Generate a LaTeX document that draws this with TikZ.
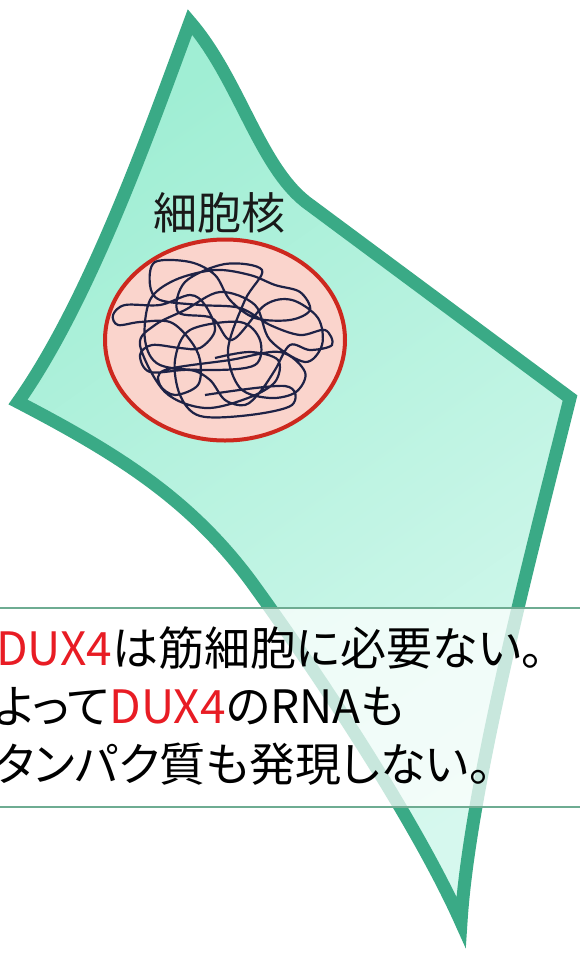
\documentclass[tikz,border=0pt]{standalone}
\usepackage{fontspec}
\setmainfont{Noto Sans CJK JP}[RawFeature=+palt]
\usepackage{xcolor}
\usepackage{tikz}
\usetikzlibrary{shapes.geometric}

\definecolor{cellgreen}{RGB}{58,170,134}
\definecolor{mintdark}{RGB}{160,238,212}
\definecolor{mintlight}{RGB}{214,248,238}
\definecolor{nucred}{RGB}{205,40,30}
\definecolor{nucpink}{RGB}{250,212,204}
\definecolor{dnablue}{RGB}{30,34,70}
\definecolor{boxgreen}{RGB}{110,172,146}
\definecolor{duxred}{RGB}{232,28,36}

\tikzset{
  cellwall/.style={draw=cellgreen, line width=13pt, top color=mintdark, bottom color=mintlight, shading angle=35},
  nucleus/.style={ellipse, draw=nucred, line width=4pt, fill=nucpink, minimum width=240pt, minimum height=201pt, inner sep=0pt},
  chromatin/.style={draw=dnablue, line width=2.2pt, line join=round},
  notebox/.style={draw=boxgreen, line width=2.5pt, fill=white, fill opacity=0.72, minimum width=620pt, minimum height=199pt, inner sep=0pt},
  notetext/.style={anchor=base west, inner sep=0pt, font=\fontsize{46}{58}\selectfont},
}

\begin{document}
\begin{tikzpicture}[x=1pt,y=-1pt]
\useasboundingbox (0,0) rectangle (580,953);
\clip (0,0) rectangle (580,953);

\shadedraw[cellwall] (190,22) .. controls (240,80) and (260,170) .. (310,205) -- (570,398)
  .. controls (540,520) and (470,780) .. (461,922)
  .. controls (420,830) and (330,690) .. (250,580)
  .. controls (190,500) and (120,455) .. (18,402)
  .. controls (90,300) and (150,130) .. cycle;

\node[nucleus] (nuc) at (225,340) {};
\node[inner sep=0pt, text=black!90, font=\fontsize{44}{44}\selectfont] (nuclab) at (219,213) {細胞核};

\draw[chromatin] plot[smooth, tension=0.55] coordinates {
  (205,395) (285,386) (292,405) (250,415) (200,416) (180,395) (175,360)
  (190,330) (240,322) (260,340) (255,365) (210,370) (160,365) (145,340)
  (150,300) (175,280) (215,270) (250,275) (275,285) (300,292) (310,310)
  (290,320) (255,318) (230,300) (215,275) (190,262) (155,262) (150,285)
  (160,300) (200,305) (240,308) (270,325) (300,335) (325,330) (332,345)
  (310,350) (290,345) (275,370) (260,392) (245,405) (225,400) (210,380)
  (190,370) (150,372) (140,355) (152,345) (180,348) (200,348) (215,330)
  (205,305) (190,295) (160,305) (125,305) (113,315) (118,325) (140,322)
  (170,322) (190,340) (200,360) (198,385) (175,395) (160,385) (165,370)
  (230,360) (280,352) (305,372) (296,392) (270,398) (240,388) (228,350)
  (245,300) (262,270) (225,264) (185,282) (178,312) (212,318) (232,340)
  (265,305) (292,300) (318,318) (322,345) (305,362) (270,340) (255,305)
  (220,292) (185,310) (155,325) (140,345) (165,392) (205,408) (248,398)
  (275,382) (278,360) (250,352) (215,358)};

\node[notebox] (note) at (290,707.5) {};
\node[notetext] (line1) at (-4,665) {\textcolor{duxred}{DUX4}は筋細胞に必要ない。};
\node[notetext] (line2) at (-6,723) {よって\textcolor{duxred}{DUX4}のRNAも};
\node[notetext] (line3) at (-6,781) {タンパク質も発現しない。};
\end{tikzpicture}
\end{document}
